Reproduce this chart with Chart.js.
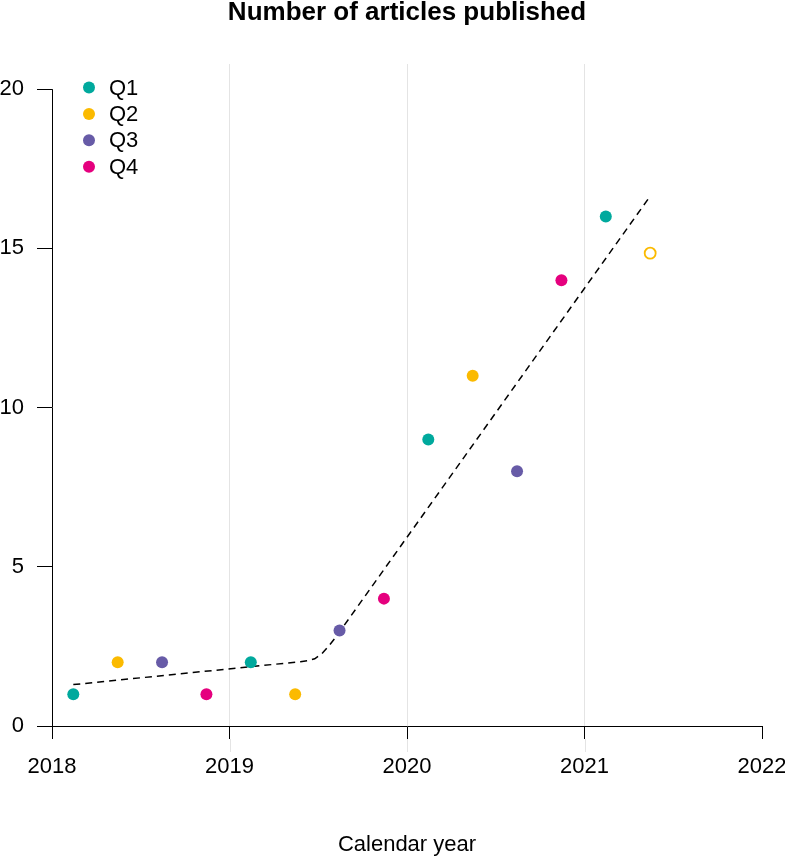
<!DOCTYPE html>
<html><head><meta charset="utf-8">
<script src="https://cdn.jsdelivr.net/npm/chart.js@4.4.1/dist/chart.umd.min.js"></script>
<style>html,body{margin:0;padding:0;background:#fff}canvas{display:block}</style>
</head><body>
<canvas id="c" width="785" height="858"></canvas>
<script>
const years = [2018, 2019, 2020, 2021];
const quarterLabels = ['Q1', 'Q2', 'Q3', 'Q4'];
const quarterMid = [0.12, 0.37, 0.62, 0.87];
const q1Values = [1, 2, 9, 16];
const q2Values = [2, 1, 11];
const q3Values = [2, 3, 8];
const q4Values = [1, 4, 14];
const q2PartialYears = [2021];
const q2PartialValues = [14.85];
const trendX = [2018.12, 2019.40, 2019.44, 2019.48, 2019.52, 2019.56, 2019.60, 2021.37];
const trendY = [1.30, 2.02, 2.05, 2.11, 2.27, 2.52, 2.80, 16.64];
const xTicks = [2018, 2019, 2020, 2021, 2022];
const yTicks = [0, 5, 10, 15, 20];
const gridYears = [2019, 2020, 2021];

const quarterColors = ['#00A99D', '#FBBA00', '#675BA7', '#E5007E'];
const FONT = "'Liberation Sans', Arial, Helvetica, sans-serif";

Chart.defaults.font.family = FONT;
Chart.defaults.color = '#000';

function toPoints(vals, q, yrs) {
  const ys = yrs || years;
  return vals.map((v, i) => ({ x: ys[i] + quarterMid[q], y: v }));
}
const qValues = [q1Values, q2Values, q3Values, q4Values];

const datasets = [
  {
    label: 'trend',
    data: trendX.map((x, i) => ({ x: x, y: trendY[i] })),
    showLine: true,
    borderColor: '#000',
    borderWidth: 1.5,
    borderDash: [7, 5],
    pointRadius: 0,
    fill: false,
    tension: 0,
    order: 10
  }
];
qValues.forEach((vals, q) => {
  datasets.push({
    label: quarterLabels[q],
    data: toPoints(vals, q),
    pointRadius: 6,
    pointBackgroundColor: quarterColors[q],
    pointBorderWidth: 0,
    borderColor: quarterColors[q],
    showLine: false,
    order: 0
  });
});
datasets.push({
  label: 'Q2 (partial)',
  data: toPoints(q2PartialValues, 1, q2PartialYears),
  pointRadius: 5.5,
  pointBackgroundColor: '#fff',
  pointBorderColor: quarterColors[1],
  pointBorderWidth: 1.8,
  showLine: false,
  order: 0
});

const extras = {
  id: 'extras',
  beforeDatasetsDraw(chart) {
    const ctx = chart.ctx;
    const x = chart.scales.x, y = chart.scales.y;
    const a = chart.chartArea;
    const left = Math.round(x.getPixelForValue(xTicks[0])) + 0.5;
    ctx.save();
    ctx.strokeStyle = '#e4e4e4';
    ctx.lineWidth = 1;
    gridYears.forEach(g => {
      const gx = Math.round(x.getPixelForValue(g)) + 0.5;
      ctx.beginPath();
      ctx.moveTo(gx, a.bottom + 13);
      ctx.lineTo(gx, a.bottom + 26);
      ctx.stroke();
    });
    ctx.strokeStyle = '#000';
    ctx.beginPath();
    ctx.moveTo(left, y.getPixelForValue(yTicks[0]));
    ctx.lineTo(left, y.getPixelForValue(yTicks[yTicks.length - 1]));
    ctx.stroke();
    ctx.restore();
  },
  afterDatasetsDraw(chart) {
    const ctx = chart.ctx;
    const a = chart.chartArea;
    ctx.save();
    ctx.font = '22px ' + FONT;
    ctx.textBaseline = 'middle';
    ctx.textAlign = 'left';
    quarterLabels.forEach((lab, i) => {
      const cy = a.top + 23.5 + i * 26.4;
      ctx.fillStyle = quarterColors[i];
      ctx.beginPath();
      ctx.arc(a.left + 37, cy, 6, 0, Math.PI * 2);
      ctx.fill();
      ctx.fillStyle = '#000';
      ctx.fillText(lab, a.left + 57, cy + 1);
    });
    ctx.restore();
  }
};

new Chart(document.getElementById('c'), {
  type: 'scatter',
  data: { datasets: datasets },
  options: {
    responsive: false,
    animation: false,
    layout: { padding: { left: 0, right: 23, top: 0, bottom: 0 } },
    plugins: {
      legend: { display: false },
      tooltip: { enabled: false },
      title: {
        display: true,
        text: 'Number of articles published',
        fullSize: false,
        color: '#000',
        font: { size: 26, weight: 'bold', family: FONT, lineHeight: 1 },
        padding: { top: 0, bottom: 38 }
      }
    },
    scales: {
      x: {
        type: 'linear',
        min: 2018,
        max: 2022,
        afterBuildTicks(s) { s.ticks = xTicks.map(v => ({ value: v })); },
        afterFit(s) { s.height = 132; s.paddingRight = 23; s.paddingLeft = 0; },
        ticks: {
          font: { size: 22 },
          color: '#000',
          padding: 14.5,
          maxRotation: 0,
          autoSkip: false,
          callback: v => String(v)
        },
        grid: {
          display: true,
          drawOnChartArea: true,
          color: c => (c.tick && gridYears.includes(c.tick.value)) ? '#e4e4e4' : 'rgba(0,0,0,0)',
          tickColor: '#000',
          tickLength: 13,
          lineWidth: 1
        },
        border: { display: true, color: '#000', width: 1 },
        title: {
          display: true,
          text: 'Calendar year',
          color: '#000',
          font: { size: 22 },
          padding: { top: 52, bottom: 0 }
        }
      },
      y: {
        type: 'linear',
        min: 0,
        max: 20.79,
        afterBuildTicks(s) { s.ticks = yTicks.map(v => ({ value: v })); },
        afterFit(s) { s.width = 52; },
        ticks: {
          font: { size: 22 },
          color: '#000',
          padding: 13,
          autoSkip: false,
          callback: v => String(v)
        },
        grid: {
          display: true,
          drawOnChartArea: false,
          tickColor: '#000',
          tickLength: 15,
          lineWidth: 1
        },
        border: { display: false }
      }
    }
  },
  plugins: [extras]
});
</script>
</body></html>
